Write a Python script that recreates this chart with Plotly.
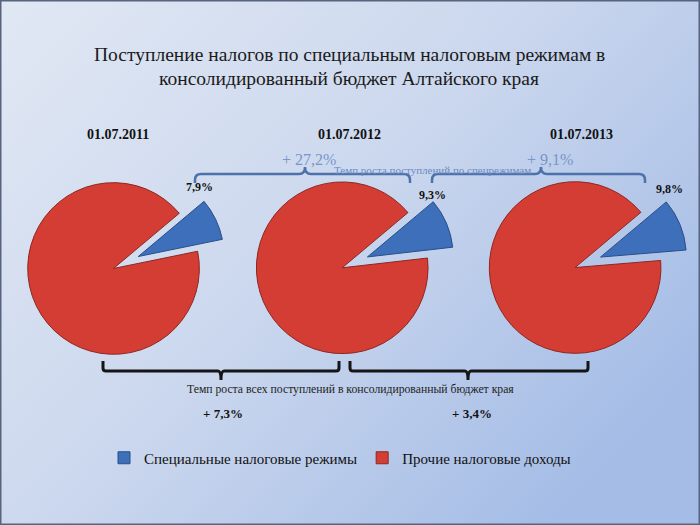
import base64
import plotly.graph_objects as go

# ---- data ----
years = ['01.07.2011', '01.07.2012', '01.07.2013']
slice_labels = ['Специальные налоговые режимы', 'Прочие налоговые доходы']
spec_share = [7.9, 9.3, 9.8]        # % share of special tax regimes
other_share = [92.1, 90.7, 90.2]    # % share of other tax revenue
spec_growth = [27.2, 9.1]           # growth of special-regime receipts, %
total_growth = [7.3, 3.4]           # growth of all receipts, %

title_lines = ['Поступление налогов по специальным налоговым режимам в',
               'консолидированный бюджет Алтайского края']
spec_caption = 'Темп роста поступлений по спецрежимам'
total_caption = 'Темп роста всех поступлений в консолидированный бюджет края'

W, H = 700, 525
FONT = 'Liberation Serif, Times New Roman, serif'
slice_colors = ['#3d6fba', '#d43d34']
edge_colors = ['#2a4f88', '#8f2720']


def px(x):
    return x / W


def py(y):
    return 1 - y / H


def fmt(v):
    return ('%.1f' % v).replace('.', ',')


# pie geometry (pixels)
pie_cx = [129, 358, 591]
pie_cy = 261
half = 103
pulls = [0.12, 0.2]

fig = go.Figure()
for i, yr in enumerate(years):
    fig.add_trace(go.Pie(
        labels=slice_labels,
        values=[spec_share[i], other_share[i]],
        sort=False,
        direction='clockwise',
        rotation=50,
        pull=pulls,
        textinfo='none',
        hoverinfo='label+value',
        marker=dict(colors=slice_colors, line=dict(color=edge_colors, width=1)),
        domain=dict(x=[px(pie_cx[i] - half), px(pie_cx[i] + half)],
                    y=[py(pie_cy + half), py(pie_cy - half)]),
        showlegend=(i == 0),
        name=yr,
    ))

annotations = []


def note(text, x, y, size, color):
    annotations.append(dict(text=text, x=px(x), y=py(y), showarrow=False,
                            xanchor='center', yanchor='middle',
                            font=dict(family=FONT, size=size, color=color)))


# title
for txt, y in zip(title_lines, [55, 78]):
    note(txt, 349, y, 19.5, '#1a1a1a')
# dates
for yr, x in zip(years, [118, 349, 581]):
    note('<b>%s</b>' % yr, x, 134, 14, '#111111')
# share labels
for v, (x, y) in zip(spec_share, [(199, 187), (432, 195), (669, 189)]):
    note('<b>%s%%</b>' % fmt(v), x, y, 12, '#111111')
# special regimes growth
for v, x in zip(spec_growth, [309, 550]):
    note('+ %s%%' % fmt(v), x, 159, 16, '#7896c9')
note(spec_caption, 432, 170, 11, '#6b8cc4')
# total growth
note(total_caption, 350, 389, 11.7, '#222222')
for v, x in zip(total_growth, [223, 472]):
    note('<b>+ %s%%</b>' % fmt(v), x, 413, 13, '#111111')


def brace(x0, x1, xm, y, h_end, h_mid, r):
    # ends bend by h_end (positive = downward), middle tip by h_mid (positive = upward)
    s = 1 if h_end > 0 else -1
    pts = [
        'M %f,%f' % (px(x0), py(y + h_end)),
        'L %f,%f' % (px(x0), py(y + s * r)),
        'Q %f,%f %f,%f' % (px(x0), py(y), px(x0 + r), py(y)),
        'L %f,%f' % (px(xm - r), py(y)),
        'Q %f,%f %f,%f' % (px(xm), py(y), px(xm), py(y - h_mid)),
        'Q %f,%f %f,%f' % (px(xm), py(y), px(xm + r), py(y)),
        'L %f,%f' % (px(x1 - r), py(y)),
        'Q %f,%f %f,%f' % (px(x1), py(y), px(x1), py(y + s * r)),
        'L %f,%f' % (px(x1), py(y + h_end)),
    ]
    return ' '.join(pts)


shapes = []
for x0, x1, xm in [(195, 410, 305), (432, 645, 541)]:
    shapes.append(dict(type='path', xref='paper', yref='paper',
                       path=brace(x0, x1, xm, 174, 9, 7, 6),
                       line=dict(color='#4d72ab', width=2.5)))
for x0, x1, xm in [(103, 339, 221), (350, 588, 468)]:
    shapes.append(dict(type='path', xref='paper', yref='paper',
                       path=brace(x0, x1, xm, 371, -10, -9, 3),
                       line=dict(color='#151515', width=3)))
# slide frame
shapes.append(dict(type='rect', xref='paper', yref='paper', x0=0, x1=1, y0=0, y1=1,
                   line=dict(color='#56647e', width=3)))

# slide background gradient as an inline svg image
svg = ("<svg xmlns='http://www.w3.org/2000/svg' width='700' height='525'>"
       "<defs><linearGradient id='g' x1='0' y1='0' x2='1' y2='0.7'>"
       "<stop offset='0' stop-color='#e1e8f4'/>"
       "<stop offset='0.5' stop-color='#ccd8ee'/>"
       "<stop offset='1' stop-color='#a4bce6'/>"
       "</linearGradient></defs>"
       "<rect width='700' height='525' fill='url(#g)'/></svg>")
bg_src = 'data:image/svg+xml;base64,' + base64.b64encode(svg.encode()).decode()

fig.update_layout(
    width=W, height=H,
    margin=dict(l=0, r=0, t=0, b=0),
    paper_bgcolor='#ccd8ee',
    annotations=annotations,
    shapes=shapes,
    images=[dict(source=bg_src, xref='paper', yref='paper', x=0, y=1,
                 sizex=1, sizey=1, sizing='stretch', layer='below',
                 xanchor='left', yanchor='top')],
    legend=dict(orientation='h', x=px(104), y=py(458), yanchor='middle', xanchor='left',
                font=dict(family=FONT, size=15, color='#111111'),
                bgcolor='rgba(0,0,0,0)', traceorder='normal'),
)

# drop the default page margin so the 700x525 figure fills the window
fig.write_html('out.html', config={'displayModeBar': False},
               post_script="document.body.style.margin='0';")
